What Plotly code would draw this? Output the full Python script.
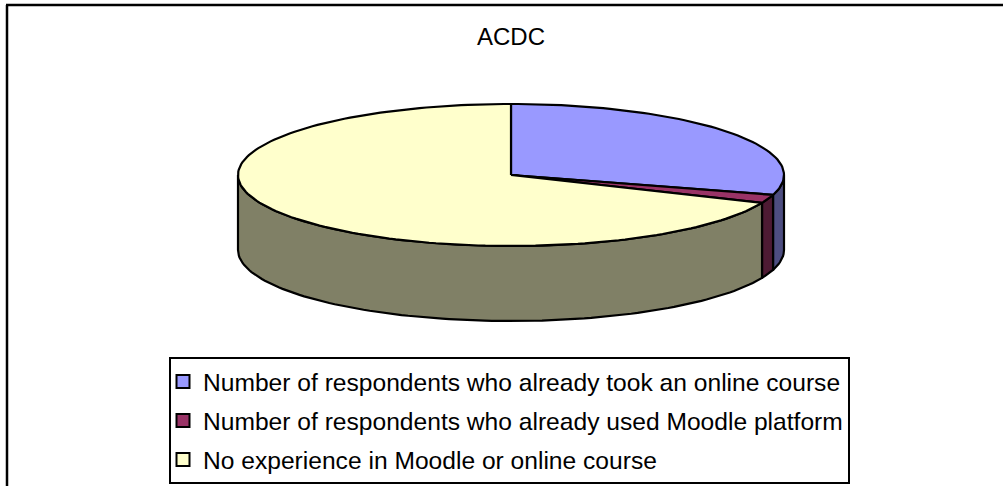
import math
import plotly.graph_objects as go

categories = [
    "Number of respondents who already took an online course",
    "Number of respondents who already used Moodle platform",
    "No experience in Moodle or online course",
]
values = [31, 2, 72]
top_colors = ["#9999FF", "#993366", "#FFFFCC"]
side_colors = ["#4D4D80", "#4D1A33", "#808066"]
title_text = "ACDC"

# Page-sized plot area; y grows downward so the geometry reads as in the picture
W, H = 1003, 486
CX, CY, RX, RY, DEPTH = 511, 175, 273, 71, 75


def pt(a, dz=0):
    return CX + RX * math.sin(a), CY - RY * math.cos(a) + dz


def arc(a0, a1, dz=0):
    n = max(2, int(abs(a1 - a0) / math.radians(1.5)))
    return [pt(a0 + (a1 - a0) * i / n, dz) for i in range(n + 1)]


total = sum(values)
bounds = [0.0]
for v in values:
    bounds.append(bounds[-1] + 2 * math.pi * v / total)

fig = go.Figure()
LINE = dict(color="black", width=2.2)


def poly(points, color):
    fig.add_trace(go.Scatter(
        x=[p[0] for p in points] + [points[0][0]],
        y=[p[1] for p in points] + [points[0][1]],
        mode="lines", fill="toself", fillcolor=color,
        line=LINE, hoverinfo="skip", showlegend=False,
    ))


# Walls: only the near half of the cylinder (90 to 270 degrees) can be seen
for i in range(len(values)):
    a0 = max(bounds[i], math.pi / 2)
    a1 = min(bounds[i + 1], 3 * math.pi / 2)
    if a1 > a0:
        poly(arc(a0, a1) + arc(a1, a0, DEPTH), side_colors[i])

# Top faces
for i in range(len(values)):
    poly([(CX, CY)] + arc(bounds[i], bounds[i + 1]), top_colors[i])

# Legend entries
for i, name in enumerate(categories):
    fig.add_trace(go.Scatter(
        x=[None], y=[None], mode="markers", name=name, legendgroup=str(i),
        marker=dict(symbol="square", size=13, color=top_colors[i],
                    line=dict(color="black", width=2)),
    ))

fig.update_layout(
    width=W, height=H,
    margin=dict(l=0, r=0, t=0, b=0),
    paper_bgcolor="white", plot_bgcolor="white",
    font=dict(family="Liberation Sans, Arial, sans-serif", color="black"),
    title=dict(text=title_text, x=511 / W, xanchor="center", y=1 - 37 / H,
               yanchor="middle", font=dict(size=24)),
    xaxis=dict(range=[0, W], visible=False, fixedrange=True),
    yaxis=dict(range=[H, 0], visible=False, fixedrange=True),
    legend=dict(
        x=169 / W, y=1 - 357 / H, xanchor="left", yanchor="top",
        bgcolor="white", bordercolor="black", borderwidth=2,
        font=dict(size=24.6), traceorder="grouped", tracegroupgap=4,
        indentation=-8, itemwidth=30,
    ),
    shapes=[
        dict(type="line", xref="x", yref="y", x0=6, x1=W, y0=5, y1=5, line=dict(color="black", width=2.5)),
        dict(type="line", xref="x", yref="y", x0=7, x1=7, y0=5, y1=H, line=dict(color="black", width=2.5)),
    ],
)

fig.write_html(
    "out.html",
    config=dict(displayModeBar=False),
    post_script="document.body.style.margin='0';document.body.style.overflow='hidden';",
)
